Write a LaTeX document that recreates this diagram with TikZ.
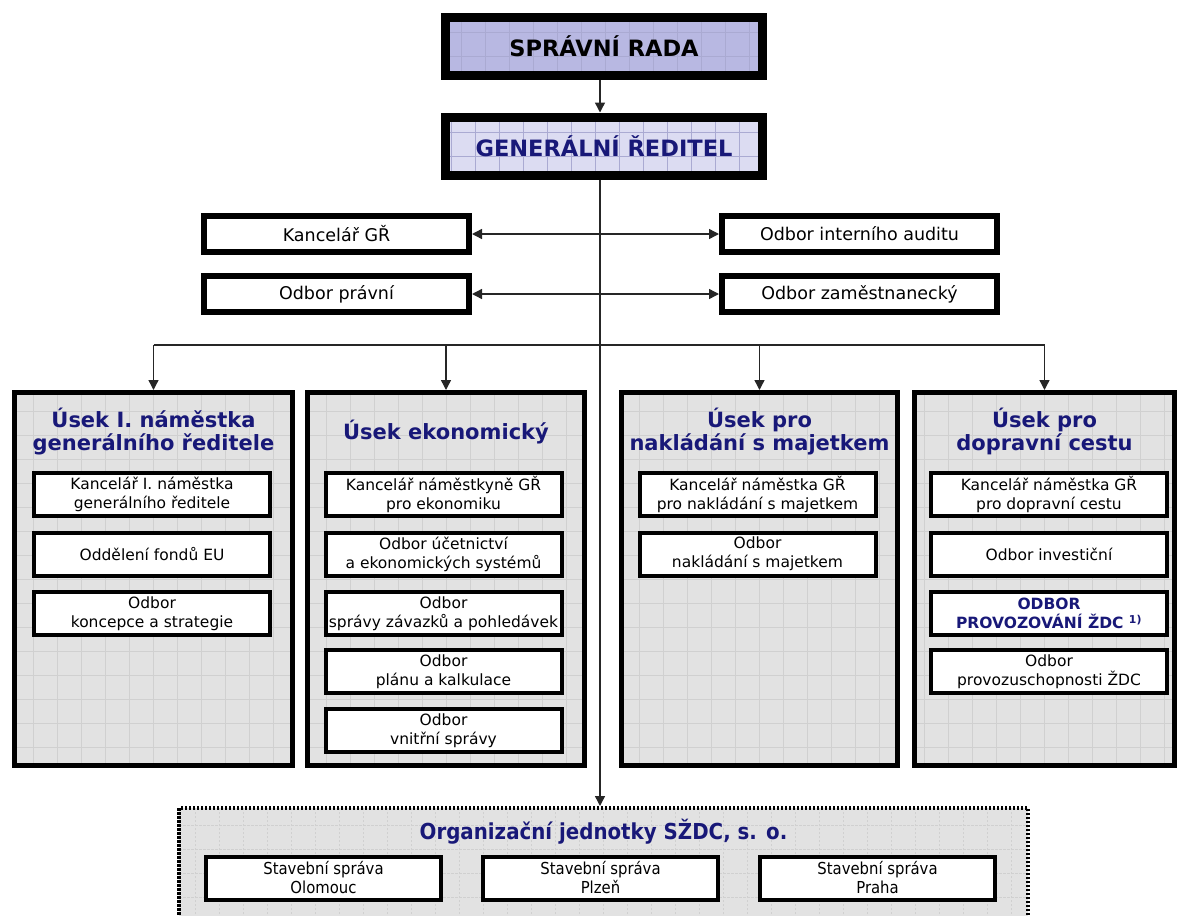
\documentclass[tikz,border=0pt]{standalone}
\usepackage{fontspec}
\setmainfont{DejaVu Sans}
\newfontfamily\tahoma[FakeStretch=0.9]{DejaVu Sans}
\usetikzlibrary{arrows.meta}
\definecolor{navy}{RGB}{24,24,120}
\definecolor{lavA}{RGB}{184,184,226}
\definecolor{lavB}{RGB}{220,220,242}
\definecolor{secgray}{RGB}{226,226,226}
\definecolor{gridc}{RGB}{208,208,208}
\definecolor{gridl}{RGB}{170,170,210}
\begin{document}
\begin{tikzpicture}[x=1pt,y=-1pt,
  gridfill/.style={path picture={\draw[#1, line width=0.6pt] (path picture bounding box.south west) grid[step=24pt] (path picture bounding box.north east);}},
  topbox/.style={draw, line width=9pt, inner sep=0pt, minimum width=317, minimum height=58, font=\fontsize{22.5}{26}\selectfont\bfseries},
  midbox/.style={draw, fill=white, line width=6pt, inner sep=0pt, minimum height=36, font=\fontsize{17.5}{20}\selectfont},
  secbox/.style={draw, fill=secgray, gridfill=gridc, line width=5pt, inner sep=0pt, minimum height=373},
  sectitle/.style={text=navy, align=center, font=\fontsize{21}{23.5}\selectfont\bfseries},
  inbox/.style={draw, fill=white, line width=4pt, inner sep=0pt, minimum width=236, minimum height=43, align=center, font=\fontsize{15.5}{19}\selectfont},
  orgbox/.style={draw, fill=white, line width=4pt, inner sep=0pt, minimum width=235, minimum height=43, align=center, font=\tahoma\fontsize{16.5}{19}\selectfont},
  conn/.style={line width=1.4pt, draw=black!85},
  arr/.style={conn, -{Triangle[length=10pt,width=10pt]}},
  darr/.style={conn, {Triangle[length=10pt,width=10pt]}-{Triangle[length=10pt,width=10pt]}}
]
\useasboundingbox (0,0) rectangle (1179,916);

% top boxes
\node[topbox, fill=lavA, gridfill=gridl] (SR) at (604,46.5) {SPRÁVNÍ RADA};
\node[topbox, fill=lavB, gridfill=gridl, text=navy] (GR) at (604,146) {GENERÁLNÍ ŘEDITEL};
\coordinate (trunk) at (600,345);

% staff boxes
\node[midbox, minimum width=265] (KGR) at (336.5,234) {Kancelář GŘ};
\node[midbox, minimum width=275] (AUD) at (859.5,234) {Odbor interního auditu};
\node[midbox, minimum width=265] (PRA) at (336.5,294) {Odbor právní};
\node[midbox, minimum width=275] (ZAM) at (859.5,294) {Odbor zaměstnanecký};

% section boxes
\node[secbox, minimum width=278] (U1) at (153.5,579) {};
\node[secbox, minimum width=277] (U2) at (446,579) {};
\node[secbox, minimum width=276] (U3) at (759.5,579) {};
\node[secbox, minimum width=260] (U4) at (1044.5,579) {};

\node[sectitle] (T1) at (153.5,431.5) {Úsek I. náměstka\\generálního ředitele};
\node[sectitle] (T2) at (446,432) {Úsek ekonomický};
\node[sectitle] (T3) at (759.5,431.5) {Úsek pro\\nakládání s majetkem};
\node[sectitle] (T4) at (1044.5,431.5) {Úsek pro\\dopravní cestu};

% section 1
\node[inbox] (A1) at (152,494.5) {Kancelář I. náměstka\\generálního ředitele};
\node[inbox] (A2) at (152,554) {Oddělení fondů EU};
\node[inbox] (A3) at (152,613.5) {Odbor\\koncepce a strategie};
% section 2
\node[inbox] (B1) at (443.5,494.5) {Kancelář náměstkyně GŘ\\pro ekonomiku};
\node[inbox] (B2) at (443.5,554) {Odbor účetnictví\\a ekonomických systémů};
\node[inbox] (B3) at (443.5,613.5) {Odbor\\správy závazků a pohledávek};
\node[inbox] (B4) at (443.5,671.5) {Odbor\\plánu a kalkulace};
\node[inbox] (B5) at (443.5,730.5) {Odbor\\vnitřní správy};
% section 3
\node[inbox] (C1) at (757.5,494.5) {Kancelář náměstka GŘ\\pro nakládání s majetkem};
\node[inbox] (C2) at (757.5,554) {Odbor\\nakládání s majetkem};
% section 4
\node[inbox] (D1) at (1049,494.5) {Kancelář náměstka GŘ\\pro dopravní cestu};
\node[inbox] (D2) at (1049,554) {Odbor investiční};
\node[inbox, text=navy, font=\fontsize{15.5}{19}\selectfont\bfseries] (D3) at (1049,613.5) {ODBOR\\PROVOZOVÁNÍ ŽDC \textsuperscript{1)}};
\node[inbox] (D4) at (1049,671.5) {Odbor\\provozuschopnosti ŽDC};

% organisational units
\node[draw, fill=secgray, gridfill=gridc, line width=4pt, dash pattern=on 2.5pt off 1.5pt, inner sep=0pt, minimum width=849, minimum height=130] (ORG) at (603.5,873) {};
\node[text=navy, font=\tahoma\fontsize{22}{25}\selectfont\bfseries] (OT) at (603.5,832) {Organizační jednotky SŽDC, s. o.};
\node[orgbox] (O1) at (323.5,878) {Stavební správa\\Olomouc};
\node[orgbox] (O2) at (600.5,878) {Stavební správa\\Plzeň};
\node[orgbox] (O3) at (877.5,878) {Stavební správa\\Praha};

% connectors
\draw[arr] (SR.south -| trunk) -- (GR.north -| trunk);
\draw[arr] (GR.south -| trunk) -- (ORG.north -| trunk);
\draw[darr] (KGR.east) -- (AUD.west);
\draw[darr] (PRA.east) -- (ZAM.west);
\draw[conn] (trunk -| U1.north) -- (trunk -| U4.north);
\draw[arr] (trunk -| U1.north) -- (U1.north);
\draw[arr] (trunk -| U2.north) -- (U2.north);
\draw[arr] (trunk -| U3.north) -- (U3.north);
\draw[arr] (trunk -| U4.north) -- (U4.north);
\end{tikzpicture}
\end{document}
